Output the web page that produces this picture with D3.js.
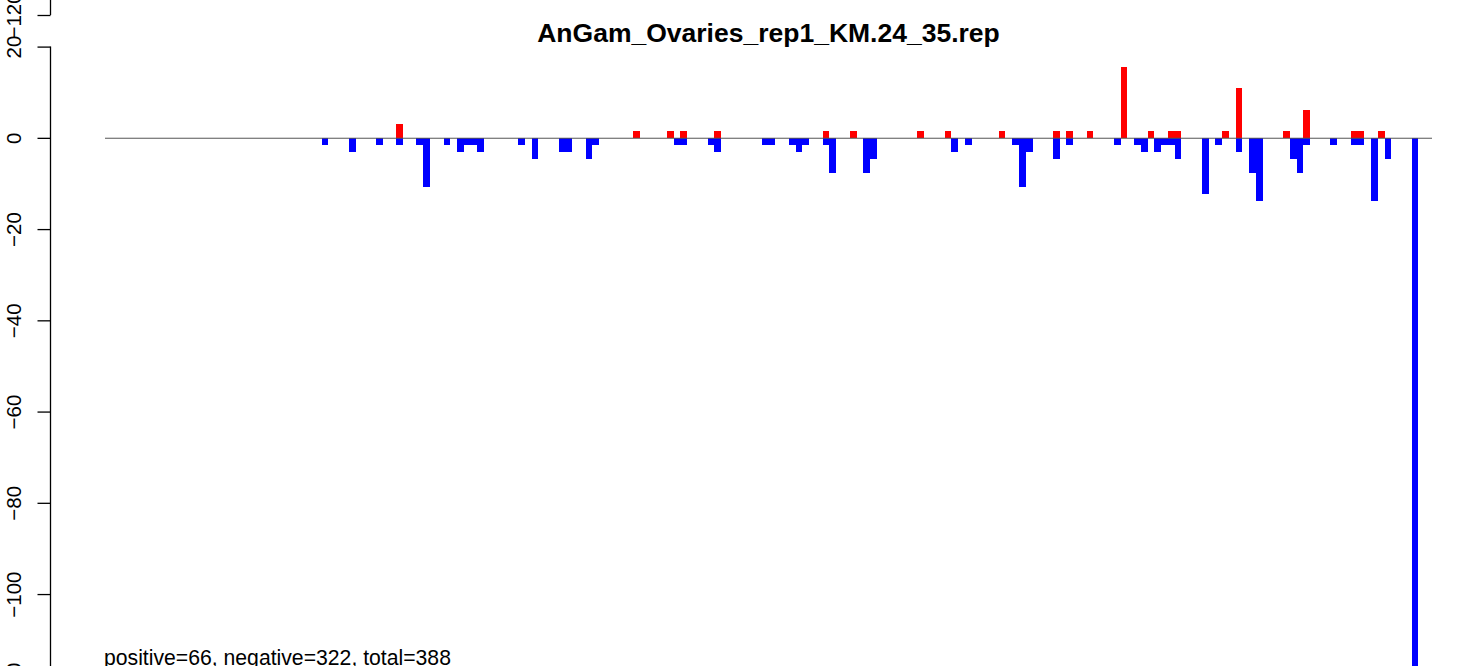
<!DOCTYPE html>
<html>
<head>
<meta charset="utf-8">
<script src="https://cdn.jsdelivr.net/npm/d3@7"></script>
<style>
  html, body { margin: 0; padding: 0; background: #fff; overflow: hidden; }
  text { font-family: "Liberation Sans", Arial, Helvetica, sans-serif; }
</style>
</head>
<body>
<svg id="chart" width="1480" height="666"></svg>
<script>
// ---- data ----
const title = "AnGam_Ovaries_rep1_KM.24_35.rep";
const summary = "positive=66, negative=322, total=388";
const yTicks = [20, 0, -20, -40, -60, -80, -100, -120];
const prevPanelTicks = [-120]; // bottom tick of the panel above, peeking at the top edge

// sense (positive, red) bars: bin index and value
const posBins = [43, 78, 83, 85, 90, 106, 110, 120, 124, 132, 140, 142, 145, 150, 154, 157, 158, 165, 167, 174, 177, 184, 185, 188];
const posVals = [3.09, 1.55, 1.55, 1.55, 1.55, 1.55, 1.55, 1.55, 1.55, 1.55, 1.55, 1.55, 1.55, 15.45, 1.55, 1.55, 1.55, 1.55, 10.82, 1.55, 6.18, 1.55, 1.55, 1.55];

// antisense (negative, blue) bars
const negBins = [32, 36, 40, 43, 46, 47, 50, 52, 53, 54, 55, 61, 63, 67, 68, 71, 72, 84, 85, 89, 90, 97, 98, 101, 102, 103, 106, 107, 112, 113, 125, 127, 134, 135, 136, 140, 142, 149, 152, 153, 155, 156, 157, 158, 162, 164, 167, 169, 170, 175, 176, 177, 181, 184, 185, 187, 189, 193];
const negVals = [-1.55, -3.09, -1.55, -1.55, -1.55, -10.82, -1.55, -3.09, -1.55, -1.55, -3.09, -1.55, -4.64, -3.09, -3.09, -4.64, -1.55, -1.55, -1.55, -1.55, -3.09, -1.55, -1.55, -1.55, -3.09, -1.55, -1.55, -7.73, -7.73, -4.64, -3.09, -1.55, -1.55, -10.82, -3.09, -4.64, -1.55, -1.55, -1.55, -3.09, -3.09, -1.55, -1.55, -4.64, -12.36, -1.55, -3.09, -7.73, -13.91, -4.64, -7.73, -1.55, -1.55, -1.55, -1.55, -13.91, -4.64, -117.4];

const nBins = 196;

// ---- layout ----
const svg = d3.select("#chart");
const plotLeft = 105, plotRight = 1432;
const axisX = 50.5;
const prevPanelShift = -670.3;

const x = d3.scaleLinear().domain([0, nBins]).range([plotLeft, plotRight]);
const y = d3.scaleLinear().domain([-120, 20]).range([685.3, 46.6]);

const pos = posBins.map((b, i) => ({ b, v: posVals[i] }));
const neg = negBins.map((b, i) => ({ b, v: negVals[i] }));

const bars = svg.append("g").attr("shape-rendering", "crispEdges");
bars.selectAll("rect.neg").data(neg).join("rect")
  .attr("class", "neg")
  .attr("x", d => x(d.b))
  .attr("width", d => x(d.b + 1) - x(d.b))
  .attr("y", y(0))
  .attr("height", d => y(d.v) - y(0))
  .attr("fill", "#0000ff");
bars.selectAll("rect.pos").data(pos).join("rect")
  .attr("class", "pos")
  .attr("x", d => x(d.b))
  .attr("width", d => x(d.b + 1) - x(d.b))
  .attr("y", d => y(d.v))
  .attr("height", d => y(0) - y(d.v))
  .attr("fill", "#ff0000");

// zero line
svg.append("line")
  .attr("x1", plotLeft).attr("x2", plotRight)
  .attr("y1", y(0) + 0.4).attr("y2", y(0) + 0.4)
  .attr("stroke", "#555").attr("stroke-width", 1);

// y axis (R style: line between first and last tick, rotated labels)
function drawAxis(shift, ticks, lineTop) {
  const g = svg.append("g").attr("transform", `translate(${axisX},${shift})`);
  const ax = d3.axisLeft(y).tickValues(ticks).tickSize(13).tickSizeOuter(0)
    .tickFormat(d => d < 0 ? "\u2212" + Math.abs(d) : String(d));
  g.call(ax);
  g.select(".domain").remove();
  g.append("line")
    .attr("x1", 0).attr("x2", 0)
    .attr("y1", lineTop).attr("y2", y(d3.min(ticks)))
    .attr("stroke", "#000").attr("stroke-width", 1.3);
  g.selectAll(".tick line").attr("stroke", "#000").attr("stroke-width", 1.3);
  g.selectAll(".tick text")
    .attr("x", 0).attr("dy", 0)
    .attr("text-anchor", "middle")
    .attr("transform", "translate(-30,0) rotate(-90)")
    .attr("font-size", 20.5)
    .attr("fill", "#000")
    .style("font-family", "'Liberation Sans', Arial, sans-serif");
}
drawAxis(0, yTicks, y(d3.max(yTicks)));
drawAxis(prevPanelShift, prevPanelTicks, -prevPanelShift * 0 + y(-120) - 40);

// title
svg.append("text")
  .attr("x", (plotLeft + plotRight) / 2)
  .attr("y", 42)
  .attr("text-anchor", "middle")
  .attr("font-weight", "bold")
  .attr("font-size", 26.5)
  .text(title);

// summary text
svg.append("text")
  .attr("x", 104)
  .attr("y", 665)
  .attr("font-size", 21.2)
  .text(summary);
</script>
</body>
</html>
